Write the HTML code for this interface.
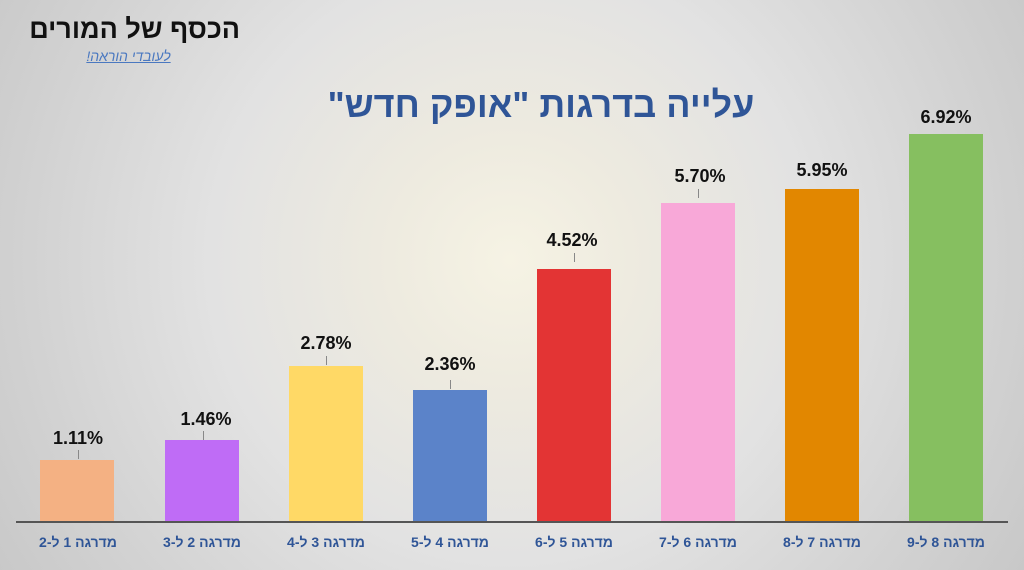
<!DOCTYPE html>
<html><head><meta charset="utf-8"><style>
body{margin:0}
#c{position:relative;width:1024px;height:570px;overflow:hidden;font-family:"Liberation Sans","Noto Sans CJK SC",sans-serif;
background:radial-gradient(circle at 510px 260px,#f6f3e4 0,#eeebe0 120px,#e2e2e2 300px,#d2d2d2 480px,#c4c4c4 650px);}
.bar{position:absolute;width:74px}
.v{position:absolute;width:120px;text-align:center;font-weight:bold;font-size:18px;color:#111}
.l{position:absolute;width:124px;text-align:center;font-weight:bold;font-size:14px;color:#2f5597;top:534px;direction:rtl}
.t{position:absolute;width:1px;height:9px;background:#888}
</style></head><body><div id="c">
<div style="position:absolute;left:20px;top:14px;font-size:27px;font-weight:bold;color:#111;direction:rtl;width:220px;text-align:right;white-space:nowrap">הכסף של המורים</div>
<div style="position:absolute;left:76px;top:48px;font-size:14px;color:#4a78c0;direction:rtl;width:105px;text-align:center;text-decoration:underline;font-style:italic;white-space:nowrap">לעובדי הוראה!</div>
<div style="position:absolute;left:0;width:1082px;top:84px;text-align:center;font-size:36px;font-weight:bold;color:#2f5597;direction:rtl">עלייה בדרגות "אופק חדש"</div>
<div style="position:absolute;left:16px;width:992px;top:521px;height:2px;background:#555"></div>
<div class="bar" style="left:40px;top:460px;height:61px;background:#f4b183"></div>
<div class="bar" style="left:165px;top:440px;height:81px;background:#bf6cf6"></div>
<div class="bar" style="left:289px;top:366px;height:155px;background:#ffd966"></div>
<div class="bar" style="left:413px;top:390px;height:131px;background:#5b83c9"></div>
<div class="bar" style="left:537px;top:269px;height:252px;background:#e33434"></div>
<div class="bar" style="left:661px;top:203px;height:318px;background:#f8a8d8"></div>
<div class="bar" style="left:785px;top:189px;height:332px;background:#e28700"></div>
<div class="bar" style="left:909px;top:134px;height:387px;background:#86bf60"></div>
<div class="v" style="left:18px;top:428px">1.11%</div><div class="t" style="left:78px;top:450px"></div>
<div class="v" style="left:146px;top:409px">1.46%</div><div class="t" style="left:203px;top:431px"></div>
<div class="v" style="left:266px;top:333px">2.78%</div><div class="t" style="left:326px;top:356px"></div>
<div class="v" style="left:390px;top:354px">2.36%</div><div class="t" style="left:450px;top:380px"></div>
<div class="v" style="left:512px;top:230px">4.52%</div><div class="t" style="left:574px;top:253px"></div>
<div class="v" style="left:640px;top:166px">5.70%</div><div class="t" style="left:698px;top:189px"></div>
<div class="v" style="left:762px;top:160px">5.95%</div>
<div class="v" style="left:886px;top:107px">6.92%</div>
<div class="l" style="left:16px">מדרגה 1 ל-2</div>
<div class="l" style="left:140px">מדרגה 2 ל-3</div>
<div class="l" style="left:264px">מדרגה 3 ל-4</div>
<div class="l" style="left:388px">מדרגה 4 ל-5</div>
<div class="l" style="left:512px">מדרגה 5 ל-6</div>
<div class="l" style="left:636px">מדרגה 6 ל-7</div>
<div class="l" style="left:760px">מדרגה 7 ל-8</div>
<div class="l" style="left:884px">מדרגה 8 ל-9</div>
</div></body></html>
